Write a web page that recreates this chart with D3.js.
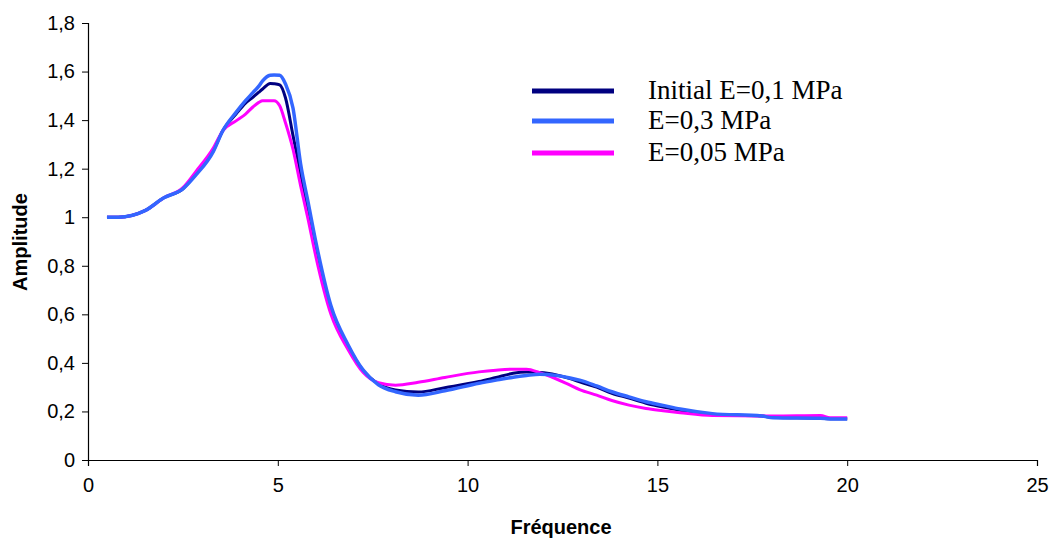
<!DOCTYPE html>
<html><head><meta charset="utf-8">
<script src="https://cdn.jsdelivr.net/npm/d3@7"></script>
<style>body{margin:0;background:#fff}svg{display:block}</style>
</head><body>
<svg id="c" width="1052" height="539"></svg>
<script>
const freq = [0.5,0.8,1.5,2,2.5,2.85,3.3,3.55,3.9,4.15,4.35,4.5,4.6,4.8,4.9,5.05,5.2,5.4,5.6,5.8,6.0,6.4,6.85,7.25,7.65,8.1,8.7,9.4,10.3,10.75,11.2,11.55,11.9,12.1,12.7,12.95,13.4,13.8,14.25,14.7,15.15,15.6,16.45,17.75,18.05,19.3,19.55,20];
const ampInitial = [1.0,1.0,1.027,1.08,1.117,1.18,1.274,1.356,1.425,1.47,1.495,1.515,1.528,1.551,1.55,1.545,1.493,1.337,1.18,1.02,0.88,0.625,0.47,0.368,0.314,0.288,0.28,0.298,0.323,0.34,0.357,0.362,0.36,0.357,0.335,0.322,0.3,0.275,0.255,0.234,0.218,0.205,0.187,0.181,0.176,0.172,0.17,0.17];
const ampE03 = [1.0,1.0,1.027,1.08,1.117,1.175,1.27,1.356,1.432,1.48,1.514,1.54,1.562,1.585,1.586,1.585,1.55,1.45,1.22,1.06,0.9,0.635,0.475,0.37,0.31,0.281,0.267,0.285,0.316,0.329,0.341,0.348,0.353,0.352,0.338,0.329,0.305,0.281,0.26,0.24,0.225,0.21,0.191,0.181,0.174,0.172,0.169,0.169];
const ampE005 = [1.0,1.0,1.027,1.08,1.122,1.19,1.285,1.356,1.397,1.425,1.455,1.473,1.48,1.48,1.48,1.459,1.39,1.28,1.13,0.99,0.84,0.6,0.455,0.36,0.318,0.308,0.32,0.34,0.363,0.37,0.374,0.374,0.36,0.349,0.308,0.29,0.267,0.245,0.226,0.212,0.203,0.195,0.183,0.181,0.181,0.183,0.174,0.174];
const seriesNames = ["Initial E=0,1 MPa","E=0,3 MPa","E=0,05 MPa"];
const seriesColors = ["#000080","#3366FF","#FF00FF"];
const xTicks = [0,5,10,15,20,25];
const yTicks = [0,0.2,0.4,0.6,0.8,1,1.2,1.4,1.6,1.8];

const svg = d3.select("#c");
const x = d3.scaleLinear().domain([0,25]).range([88,1037]);
const y = d3.scaleLinear().domain([0,1.8]).range([460,23]);
const fmt = d => String(d).replace(".", ",");
const sans = "Liberation Sans, Arial, sans-serif";

const gx = svg.append("g").attr("transform","translate(0,460)")
  .call(d3.axisBottom(x).tickValues(xTicks).tickSize(6).tickPadding(12).tickFormat(fmt));
const gy = svg.append("g").attr("transform","translate(88,0)")
  .call(d3.axisLeft(y).tickValues(yTicks).tickSize(6).tickPadding(7).tickFormat(fmt));
[gx,gy].forEach(g=>{
  g.select(".domain").attr("stroke","#000").attr("stroke-width",1.2);
  g.selectAll(".tick line").attr("stroke","#000");
  g.selectAll("text").attr("font-family",sans).attr("font-size",20).attr("fill","#000");
});

svg.append("text").attr("x",561).attr("y",534).attr("text-anchor","middle")
  .attr("font-family",sans).attr("font-weight","bold").attr("font-size",20).text("Fréquence");
svg.append("text").attr("transform","translate(27,242) rotate(-90)").attr("text-anchor","middle")
  .attr("font-family",sans).attr("font-weight","bold").attr("font-size",20).text("Amplitude");

const line = d3.line().x((d,i)=>x(freq[i])).y(d=>y(d)).curve(d3.curveMonotoneX);
const data = [ampInitial, ampE03, ampE005];
const widths = [3,3.5,3];
[0,2,1].forEach(k=>{
  svg.append("path").attr("d",line(data[k])).attr("fill","none")
    .attr("stroke",seriesColors[k]).attr("stroke-width",widths[k]).attr("stroke-linejoin","round");
});

const legY = [91,121,153];
const lg = svg.append("g");
seriesNames.forEach((n,k)=>{
  lg.append("line").attr("x1",532).attr("x2",614).attr("y1",legY[k]).attr("y2",legY[k])
    .attr("stroke",seriesColors[k]).attr("stroke-width",5);
  lg.append("text").attr("x",648).attr("y",legY[k]+8).attr("font-family","Liberation Serif, Times New Roman, serif")
    .attr("font-size",27).text(n);
});
</script>
</body></html>
